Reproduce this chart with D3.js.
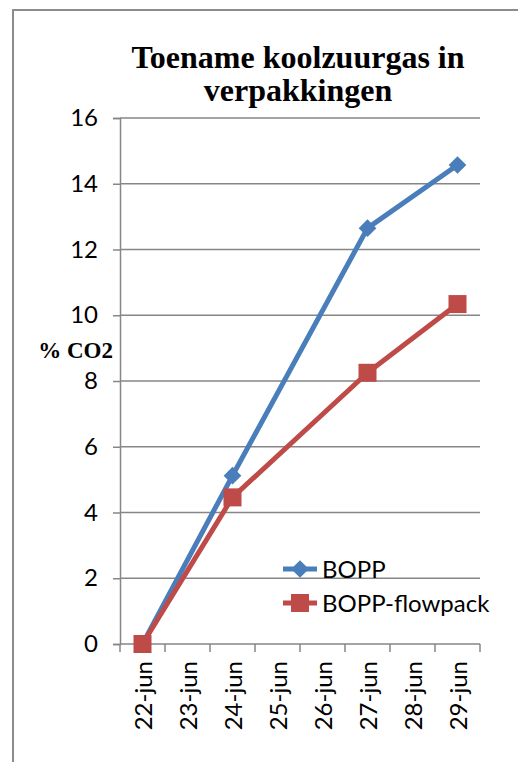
<!DOCTYPE html>
<html>
<head>
<meta charset="utf-8">
<script src="https://cdn.jsdelivr.net/npm/d3@7"></script>
<style>
  body { margin: 0; background: #fff; }
</style>
</head>
<body>
<div id="canvas"></div>
<script>
"use strict";

/* -------------------- Data -------------------- */

let dates = ["22-jun", "23-jun", "24-jun", "25-jun", "26-jun", "27-jun", "28-jun", "29-jun"];
let seriesNames = ["BOPP", "BOPP-flowpack"];
let boppValues = [0, null, 5.12, null, null, 12.65, null, 14.57];
let flowpackValues = [0, null, 4.46, null, null, 8.25, null, 10.34];
let yTicks = [0, 2, 4, 6, 8, 10, 12, 14, 16];

/* -------------------- Setup -------------------- */

let svgWidth = 518;
let svgHeight = 762;
let labelFont = "Lato, 'Liberation Sans', sans-serif";
let labelSize = 24;

let svg = d3.select("#canvas")
    .append("svg")
    .attr("width", svgWidth)
    .attr("height", svgHeight);

/* outer chart border */
svg.append("rect")
    .attr("x", 13)
    .attr("y", 10)
    .attr("width", 530)
    .attr("height", 800)
    .attr("fill", "none")
    .attr("stroke", "#8c8c8c")
    .attr("stroke-width", 2);

let plotLeft = 120;
let plotRight = 480;
let plotTop = 118;
let plotBottom = 644;

let xScale = d3.scaleBand()
    .domain(dates)
    .range([plotLeft, plotRight]);

let yScale = d3.scaleLinear()
    .domain([0, 16])
    .range([plotBottom, plotTop]);

let grey = "#868686";

/* -------------------- Gridlines -------------------- */

svg.append("g")
    .selectAll("line")
    .data(yTicks.filter(d => d > 0))
    .join("line")
    .attr("x1", plotLeft)
    .attr("x2", plotRight)
    .attr("y1", d => yScale(d))
    .attr("y2", d => yScale(d))
    .attr("stroke", grey)
    .attr("stroke-width", 1.5);

/* -------------------- Axes -------------------- */

let yAxis = svg.append("g")
    .attr("transform", "translate(" + plotLeft + ",0)")
    .call(d3.axisLeft(yScale).tickValues(yTicks).tickSize(7).tickPadding(15));

yAxis.select(".domain").attr("stroke", grey).attr("stroke-width", 1.5);
yAxis.selectAll(".tick line").attr("stroke", grey).attr("stroke-width", 1.5);
yAxis.selectAll(".tick text")
    .attr("font-family", labelFont)
    .attr("font-size", labelSize)
    .attr("fill", "#000");

let xAxis = svg.append("g")
    .attr("transform", "translate(0," + plotBottom + ")");

xAxis.append("line")
    .attr("x1", plotLeft)
    .attr("x2", plotRight)
    .attr("stroke", grey)
    .attr("stroke-width", 1.5);

/* category boundary ticks */
xAxis.selectAll("line.tick")
    .data(dates.concat(["end"]))
    .join("line")
    .attr("class", "tick")
    .attr("x1", (d, i) => plotLeft + i * xScale.step())
    .attr("x2", (d, i) => plotLeft + i * xScale.step())
    .attr("y1", 0)
    .attr("y2", 8)
    .attr("stroke", grey)
    .attr("stroke-width", 1.5);

xAxis.selectAll("text")
    .data(dates)
    .join("text")
    .attr("transform", d => "translate(" + (xScale(d) + xScale.bandwidth() / 2 + 9) + ",17) rotate(-90)")
    .attr("text-anchor", "end")
    .attr("font-family", labelFont)
    .attr("font-size", labelSize)
    .text(d => d);

/* -------------------- Lines -------------------- */

let xCenter = d => xScale(d) + xScale.bandwidth() / 2;

function seriesPoints(values) {
    return dates.map((d, i) => ({ date: d, value: values[i] }))
        .filter(p => p.value !== null);
}

let series = [
    { name: seriesNames[0], color: "#4a7ebb", shape: "diamond", points: seriesPoints(boppValues) },
    { name: seriesNames[1], color: "#be4b48", shape: "square", points: seriesPoints(flowpackValues) }
];

let line = d3.line()
    .x(p => xCenter(p.date))
    .y(p => yScale(p.value));

function drawMarker(g, shape, color, x, y) {
    if (shape === "diamond") {
        g.append("path")
            .attr("d", d3.symbol().type(d3.symbolDiamond2).size(200)())
            .attr("transform", "translate(" + x + "," + y + ")")
            .attr("fill", color);
    } else {
        g.append("rect")
            .attr("x", x - 9)
            .attr("y", y - 9)
            .attr("width", 18)
            .attr("height", 18)
            .attr("fill", color);
    }
}

series.forEach(s => {
    svg.append("path")
        .datum(s.points)
        .attr("d", line)
        .attr("fill", "none")
        .attr("stroke", s.color)
        .attr("stroke-width", 5)
        .attr("stroke-linejoin", "round");

    let g = svg.append("g");
    s.points.forEach(p => drawMarker(g, s.shape, s.color, xCenter(p.date), yScale(p.value)));
});

/* -------------------- Legend -------------------- */

let legendX = 283;
let legendY = 569;

series.forEach((s, i) => {
    let y = legendY + i * 34;
    svg.append("line")
        .attr("x1", legendX)
        .attr("x2", legendX + 34)
        .attr("y1", y)
        .attr("y2", y)
        .attr("stroke", s.color)
        .attr("stroke-width", 5);
    drawMarker(svg, s.shape, s.color, legendX + 17, y);
    svg.append("text")
        .attr("x", legendX + 39)
        .attr("y", y + 9)
        .attr("font-family", labelFont)
        .attr("font-size", labelSize)
        .text(s.name);
});

/* -------------------- Titles -------------------- */

let title = svg.append("text")
    .attr("text-anchor", "middle")
    .attr("font-family", "'Liberation Serif', serif")
    .attr("font-weight", "bold")
    .attr("font-size", 32);

title.append("tspan").attr("x", 298).attr("y", 68).text("Toename koolzuurgas in");
title.append("tspan").attr("x", 298).attr("y", 101).text("verpakkingen");

svg.append("text")
    .attr("x", 113)
    .attr("y", 358)
    .attr("text-anchor", "end")
    .attr("font-family", "'Liberation Serif', serif")
    .attr("font-weight", "bold")
    .attr("font-size", 23)
    .text("% CO2");
</script>
</body>
</html>
